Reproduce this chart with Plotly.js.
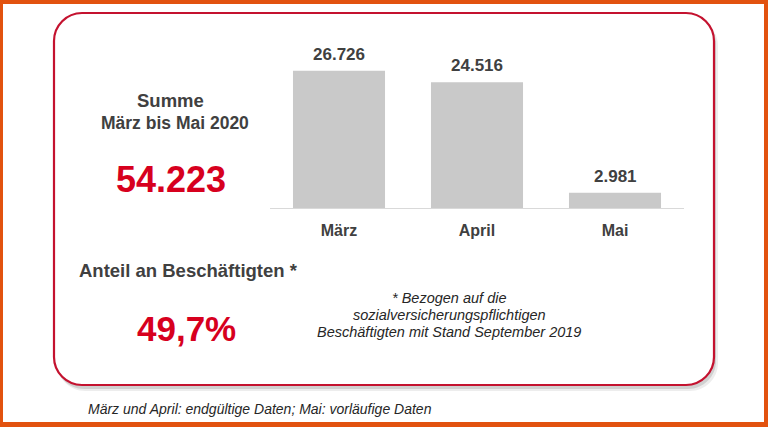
<!DOCTYPE html>
<html>
<head>
<meta charset="utf-8">
<script src="https://cdn.plot.ly/plotly-3.0.1.min.js"></script>
<style>html,body{margin:0;padding:0;background:#fff}#chart{width:768px;height:427px}</style>
</head>
<body>
<div id="chart"></div>
<script>
// ---- data ----
const months = ["März", "April", "Mai"];
const values = [26726, 24516, 2981];
const sumLabel = ["Summe", "März bis Mai 2020"];
const sumValue = "54.223";
const shareLabel = "Anteil an Beschäftigten *";
const shareValue = "49,7%";
const footnoteLines = ["* Bezogen auf die", "sozialversicherungspflichtigen", "Beschäftigten mit Stand September 2019"];
const sourceNote = "März und April: endgültige Daten; Mai: vorläufige Daten";

// ---- helpers ----
const W = 768, H = 427;
const X = px => px / W;
const Y = py => 1 - py / H;
function fmt(v) { return String(v).replace(/\B(?=(\d{3})+(?!\d))/g, "."); }
function roundRect(l, t, r, b, rad) {
  const k = 0.5523 * rad;
  const p = (x, y) => X(x) + "," + Y(y);
  return "M" + p(l + rad, t) +
    " L" + p(r - rad, t) +
    " C" + p(r - rad + k, t) + " " + p(r, t + rad - k) + " " + p(r, t + rad) +
    " L" + p(r, b - rad) +
    " C" + p(r, b - rad + k) + " " + p(r - rad + k, b) + " " + p(r - rad, b) +
    " L" + p(l + rad, b) +
    " C" + p(l + rad - k, b) + " " + p(l, b - rad + k) + " " + p(l, b - rad) +
    " L" + p(l, t + rad) +
    " C" + p(l, t + rad - k) + " " + p(l + rad - k, t) + " " + p(l + rad, t) + " Z";
}

const darkGray = "#404040";
const red = "#d7001e";
const boxRed = "#c4122f";
const FONT = "Liberation Sans, Arial, sans-serif";

const trace = {
  type: "bar",
  x: months,
  y: values,
  marker: { color: "#c9c9c9" },
  hoverinfo: "none"
};

const annotations = [];
// value labels above the bars
months.forEach((m, i) => {
  annotations.push({
    xref: "x", yref: "y", x: m, y: values[i],
    text: fmt(values[i]), showarrow: false,
    xanchor: "center", yanchor: "bottom", yshift: 5,
    font: { family: FONT, size: 17, color: darkGray, weight: "bold" }
  });
});
function addText(text, cx, cy, size, color, weight, style, xanchor) {
  annotations.push({
    xref: "paper", yref: "paper", x: X(cx), y: Y(cy),
    text: text, showarrow: false, xanchor: xanchor || "center", yanchor: "middle",
    font: { family: FONT, size: size, color: color, weight: weight || "normal", style: style || "normal" }
  });
}
addText(sumLabel[0], 170, 100, 18.5, darkGray, "bold");
addText(sumLabel[1], 175, 123, 17.5, darkGray, "bold");
addText(sumValue, 171, 179, 36, red, "bold");
addText(shareLabel, 77, 270, 18.5, darkGray, "bold", "normal", "left");
addText(shareValue, 186, 328, 35, red, "bold");
footnoteLines.forEach((t, i) => addText(t, 449, 298 + i * 17, 14.5, "#262626", "normal", "italic"));
addText(sourceNote, 86, 409, 14, "#262626", "normal", "italic", "left");

const shapes = [
  // white inner area inside orange frame
  { type: "rect", xref: "paper", yref: "paper", x0: X(3), x1: X(764), y0: Y(422), y1: Y(4),
    fillcolor: "#ffffff", line: { width: 0 }, layer: "below" },
  // soft shadow
  { type: "path", xref: "paper", yref: "paper", path: roundRect(57, 18, 718, 391, 28),
    fillcolor: "rgba(0,0,0,0.07)", line: { width: 0 }, layer: "below" },
  { type: "path", xref: "paper", yref: "paper", path: roundRect(56, 16, 716, 389, 28),
    fillcolor: "rgba(0,0,0,0.12)", line: { width: 0 }, layer: "below" },
  // red rounded box
  { type: "path", xref: "paper", yref: "paper", path: roundRect(54, 13, 714, 385, 28),
    fillcolor: "#ffffff", line: { color: boxRed, width: 2.2 }, layer: "below" }
];

const layout = {
  width: W, height: H,
  margin: { l: 0, r: 0, t: 0, b: 0 },
  paper_bgcolor: "#e2520f",
  plot_bgcolor: "rgba(0,0,0,0)",
  showlegend: false,
  bargap: 0.333,
  separators: ",.",
  xaxis: {
    domain: [X(270), X(684)],
    showline: true, linecolor: "#d9d9d9", linewidth: 1,
    ticks: "", showgrid: false, zeroline: false,
    tickfont: { family: FONT, size: 16, color: darkGray, weight: "bold" },
    ticklabelstandoff: 8,
    fixedrange: true
  },
  yaxis: {
    domain: [Y(208), Y(54)],
    range: [0, 30000],
    visible: false, showgrid: false, zeroline: false,
    fixedrange: true
  },
  annotations: annotations,
  shapes: shapes,
  font: { family: FONT }
};

Plotly.newPlot("chart", [trace], layout, { staticPlot: true, displayModeBar: false });
</script>
</body>
</html>
